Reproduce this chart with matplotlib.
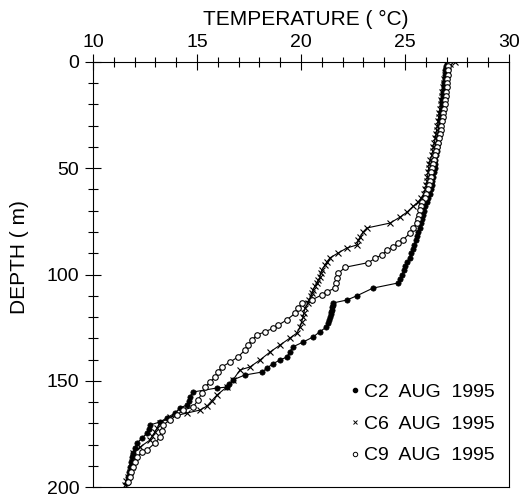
import matplotlib
matplotlib.use("Agg")
import matplotlib.pyplot as plt
from matplotlib.lines import Line2D
from matplotlib.ticker import MultipleLocator

plt.rcParams['font.family'] = ['Liberation Sans', 'DejaVu Sans']

# station C2 (filled dots)
c2_depth = [0, 2, 4, 6, 8, 10, 12, 14, 16, 18, 20, 22, 24, 26, 28, 30, 32, 34, 36, 38,
            40, 42, 44, 46, 48, 50, 52, 54, 56, 58, 60, 62, 64, 66, 68, 70, 72, 74, 76, 78,
            80, 82, 84, 86, 88, 90, 92, 94, 96, 98, 100, 102, 104, 106.4, 110, 112, 113.4,
            114.5, 115.5, 116.5, 117.6, 118.8, 120, 121.4, 122.8, 124.7, 127, 129.4, 131.8,
            134, 136.5, 138.8, 140.2, 142, 144, 145.9, 147.3, 149.6, 151.5, 153, 153.4,
            155.3, 157.6, 159.5, 161.4, 162.8, 165.2, 167.5, 169.4, 170.8, 172.5, 174.6,
            177, 179.3, 181.5, 184, 186, 188, 190.6, 193, 195.3, 198]
c2_temp = [27.00, 26.97, 26.94, 26.92, 26.90, 26.88, 26.86, 26.84, 26.82, 26.80, 26.78,
           26.76, 26.74, 26.72, 26.70, 26.68, 26.66, 26.63, 26.60, 26.58, 26.55, 26.52,
           26.49, 26.46, 26.44, 26.42, 26.39, 26.36, 26.32, 26.28, 26.24, 26.18, 26.12,
           26.04, 25.96, 25.92, 25.87, 25.82, 25.76, 25.70, 25.63, 25.57, 25.52, 25.45,
           25.38, 25.30, 25.22, 25.12, 25.02, 24.94, 24.86, 24.78, 24.66, 23.46, 22.69,
           22.21, 21.54, 21.52, 21.50, 21.47, 21.45, 21.42, 21.40, 21.36, 21.30, 21.22,
           20.90, 20.58, 20.10, 19.62, 19.45, 19.33, 19.00, 18.65, 18.37, 18.13, 17.30,
           16.73, 16.55, 16.44, 15.96, 14.80, 14.66, 14.60, 14.52, 14.18, 13.94, 13.55,
           13.22, 12.74, 12.68, 12.60, 12.35, 12.12, 12.02, 11.92, 11.88, 11.84, 11.78,
           11.73, 11.68, 11.63]

# station C6 (crosses)
c6_depth = [0, 1, 2, 4, 6, 8, 10, 12, 14, 16, 18, 20, 22, 24, 26, 28, 30, 32, 34, 36, 38,
            40, 42, 44, 46, 48, 50, 52, 54, 56, 58, 60, 62, 64, 65.9, 68, 70.6, 73, 75.8,
            78.1, 80, 82.4, 84, 86.1, 87.5, 89.9, 92.2, 94, 95.5, 97.9, 99.5, 101.2, 102.6,
            104, 105.6, 107.3, 108.7, 110.1, 111.8, 113.4, 115.8, 118, 120, 122.3, 124.7,
            127.5, 129.9, 133.2, 136.5, 140.2, 143.5, 144.9, 149.6, 152.9, 156.7, 159.3,
            161.9, 163.8, 165.2, 167.1, 169.9, 172, 174, 175.9, 177.9, 181.2, 184, 186,
            188.2, 190.6, 193, 195.3, 197.2, 199]
c6_temp = [27.40, 27.15, 27.05, 26.98, 26.93, 26.89, 26.86, 26.83, 26.80, 26.77, 26.74,
           26.71, 26.68, 26.65, 26.62, 26.59, 26.56, 26.52, 26.49, 26.45, 26.41, 26.37,
           26.33, 26.28, 26.22, 26.17, 26.14, 26.11, 26.08, 26.06, 26.03, 25.98, 25.90,
           25.78, 25.63, 25.38, 25.10, 24.76, 24.28, 23.17, 22.98, 22.84, 22.76, 22.69,
           22.21, 21.78, 21.39, 21.25, 21.15, 21.00, 20.95, 20.91, 20.84, 20.77, 20.66,
           20.58, 20.53, 20.48, 20.40, 20.34, 20.19, 20.14, 20.10, 20.03, 19.95, 19.81,
           19.47, 18.99, 18.51, 18.03, 17.55, 17.07, 16.73, 16.44, 15.96, 15.72, 15.48,
           15.14, 14.52, 13.70, 13.22, 13.10, 12.98, 12.86, 12.74, 12.26, 11.92, 11.90,
           11.89, 11.88, 11.78, 11.68, 11.60, 11.54]

# station C9 (open circles)
c9_depth = [0, 2, 4, 6, 8, 10, 12, 14, 16, 18, 20, 22, 24, 26, 28, 30, 32, 34, 36, 38,
            40, 42, 44, 46, 48, 50, 52, 54, 56, 58, 60, 62, 64, 66, 68, 69.6, 72, 74, 75.8,
            78.1, 80.5, 83.8, 85.2, 87.1, 88.5, 90.8, 92.4, 94.4, 96.6, 99.4, 101.8, 104.2,
            106.5, 108.1, 109.6, 112, 113.6, 115.9, 118.3, 121.4, 123.8, 125.3, 126.9,
            128.5, 130.8, 133.2, 135.5, 138.8, 141.2, 143.5, 145.9, 148.2, 150.6, 152.9,
            155.8, 159.1, 162.4, 163.8, 166.1, 168.5, 170.8, 173.5, 176.5, 179.3, 182.6,
            183.5, 185.9, 188, 190.6, 193, 195.3, 197.6]
c9_temp = [27.10, 27.08, 27.06, 27.05, 27.04, 27.02, 27.00, 26.98, 26.95, 26.93, 26.90,
           26.87, 26.84, 26.81, 26.78, 26.75, 26.72, 26.68, 26.64, 26.60, 26.56, 26.51,
           26.46, 26.41, 26.36, 26.31, 26.27, 26.23, 26.19, 26.14, 26.09, 26.02, 25.94,
           25.82, 25.76, 25.72, 25.66, 25.62, 25.58, 25.38, 25.24, 24.90, 24.66, 24.42,
           24.13, 23.89, 23.56, 23.24, 22.12, 21.80, 21.74, 21.68, 21.63, 21.23, 21.00,
           20.51, 20.03, 19.87, 19.71, 19.31, 18.91, 18.67, 18.27, 17.88, 17.64, 17.45,
           17.31, 16.97, 16.59, 16.20, 16.00, 15.87, 15.63, 15.38, 15.24, 15.05, 14.81,
           14.33, 14.04, 13.70, 13.37, 13.30, 13.22, 12.98, 12.60, 12.36, 12.12, 12.00,
           11.92, 11.85, 11.78, 11.68]

labels = ['C2  AUG  1995', 'C6  AUG  1995', 'C9  AUG  1995']

fig = plt.figure(figsize=(5.22, 4.97), dpi=100)
ax = fig.add_axes([93 / 522, 1 - 487 / 497, 416 / 522, 425 / 497])

ax.plot(c2_temp, c2_depth, color='black', lw=0.8, marker='o', ms=3.8,
        mfc='black', mec='black', mew=0.5)
ax.plot(c6_temp, c6_depth, color='black', lw=0.8, marker='x', ms=4.5, mew=0.8)
ax.plot(c9_temp, c9_depth, color='black', lw=0.8, marker='o', ms=4.0,
        mfc='white', mec='black', mew=0.8)

ax.set_xlim(10, 30)
ax.set_ylim(200, 0)

ax.xaxis.tick_top()
ax.xaxis.set_label_position('top')
ax.xaxis.set_major_locator(MultipleLocator(5))
ax.xaxis.set_minor_locator(MultipleLocator(1))
ax.yaxis.set_major_locator(MultipleLocator(50))
ax.yaxis.set_minor_locator(MultipleLocator(10))
ax.tick_params(axis='both', which='major', direction='inout', length=11.5,
               width=0.8, labelsize=14)
ax.tick_params(axis='both', which='minor', direction='inout', length=7, width=0.8)
ax.tick_params(axis='x', pad=2)
ax.tick_params(axis='y', pad=4)
for s in ax.spines.values():
    s.set_linewidth(0.8)

ax.set_xlabel('TEMPERATURE ( °C)', fontsize=15)
ax.xaxis.set_label_coords(0.512, 1.087)
ax.xaxis.label.set_verticalalignment('baseline')
ax.set_ylabel('DEPTH ( m)', fontsize=15)
ax.yaxis.set_label_coords(-0.154, 0.541)

handles = [Line2D([], [], ls='none', marker='o', ms=3, mfc='black', mec='black'),
           Line2D([], [], ls='none', marker='x', ms=3.5, mec='black', mew=0.7),
           Line2D([], [], ls='none', marker='o', ms=3.2, mfc='white', mec='black', mew=0.7)]
ax.legend(handles, labels, loc='lower right', frameon=False, fontsize=14,
          handlelength=0.4, handletextpad=0.3, labelspacing=0.73,
          borderaxespad=0, bbox_to_anchor=(0.9856, 0.035))

fig.savefig('out.png', dpi=100)
